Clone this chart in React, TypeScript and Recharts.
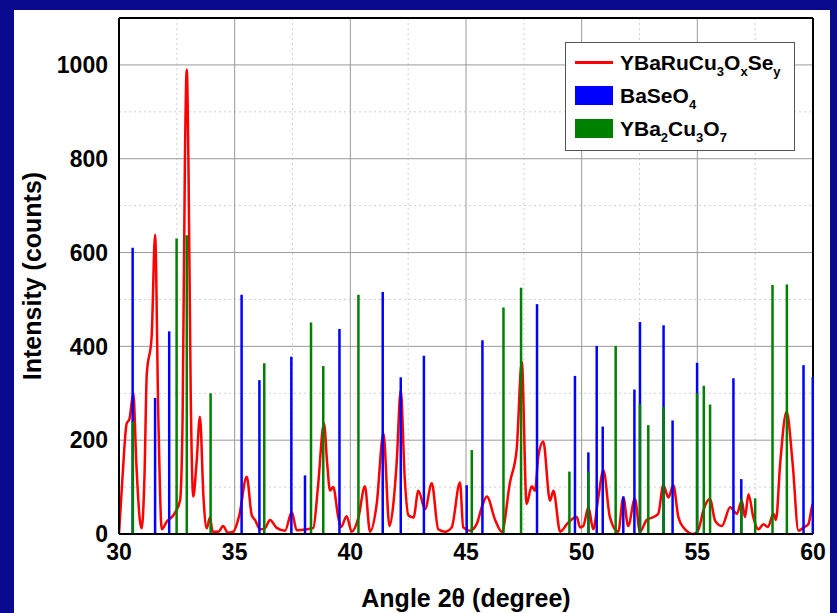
import { ComposedChart, Line, XAxis, YAxis, CartesianGrid, ReferenceLine, Legend, Label } from 'recharts';

// measured pattern (red trace)
const angles = [
  30.0, 30.15, 30.33, 30.45, 30.62, 30.75, 30.9, 30.98, 31.1, 31.2, 31.41, 31.56, 31.7, 31.85,
  32.06, 32.42, 32.64, 32.75, 32.85, 32.93, 33.0, 33.1, 33.21, 33.35, 33.5, 33.65, 33.79, 33.93,
  34.05, 34.3, 34.5, 34.7, 34.94, 35.2, 35.52, 35.74, 35.88, 36.1, 36.3, 36.53, 36.82, 37.18,
  37.47, 37.68, 38.11, 38.4, 38.6, 38.86, 39.0, 39.12, 39.26, 39.48, 39.6, 39.84, 40.06, 40.35,
  40.63, 40.85, 41.14, 41.43, 41.69, 41.86, 42.0, 42.18, 42.35, 42.51, 42.73, 42.94, 43.23, 43.52,
  43.8, 44.09, 44.38, 44.74, 44.88, 45.17, 45.46, 45.7, 45.9, 46.26, 46.55, 46.9, 47.19, 47.41,
  47.62, 47.84, 47.98, 48.13, 48.34, 48.63, 48.78, 49.07, 49.36, 49.5, 49.79, 49.93, 50.07, 50.29,
  50.5, 50.72, 50.94, 51.22, 51.58, 51.8, 52.01, 52.3, 52.52, 52.81, 53.1, 53.31, 53.53, 53.75,
  53.96, 54.18, 54.4, 54.83, 55.05, 55.26, 55.55, 55.77, 56.06, 56.42, 56.71, 56.92, 57.06, 57.21,
  57.42, 57.64, 57.86, 58.05, 58.29, 58.4, 58.58, 58.86, 59.12, 59.37, 59.59, 59.8, 59.95, 60.0,
];
const counts = [
  0, 120, 235, 245, 300, 150, 30, 12, 120, 340, 420, 638, 250, 10,
  26, 45, 72, 250, 800, 990, 800, 300, 80, 150, 250, 80, 12, 35,
  5, 5, 17, 3, 5, 40, 122, 40, 30, 10, 12, 30, 13, 7,
  47, 8, 10, 13, 100, 236, 150, 93, 100, 35, 15, 38, 5, 35,
  102, 5, 64, 215, 17, 64, 150, 307, 120, 40, 35, 92, 53, 108,
  10, 5, 14, 110, 14, 7, 21, 60, 80, 30, 5, 110, 180, 367,
  64, 102, 92, 167, 197, 71, 92, 5, 21, 28, 36, 14, 17, 57,
  10, 78, 136, 36, 5, 78, 17, 75, 5, 30, 36, 43, 104, 78,
  104, 36, 14, 0, 10, 50, 75, 28, 17, 57, 43, 71, 36, 85,
  36, 10, 21, 15, 43, 30, 150, 261, 150, 7, 14, 21, 57, 65,
];

// reference lines, BaSeO4
const baseo4Angles = [
  30.59, 31.56, 32.17, 35.3, 36.07, 37.45, 38.04, 39.53, 41.4, 42.18, 43.18, 45.03, 45.71, 48.07,
  49.71, 50.29, 50.65, 50.91, 51.8, 52.28, 52.52, 53.54, 53.93, 54.99, 56.56, 56.9, 59.59, 59.99,
];
const baseo4Heights = [
  610, 290, 432, 510, 328, 378, 125, 437, 516, 334, 380, 104, 413, 490,
  337, 174, 401, 229, 80, 308, 452, 445, 242, 365, 332, 117, 360, 335,
];

// reference lines, YBa2Cu3O7
const ybcoAngles = [
  30.6, 32.49, 32.93, 33.96, 36.28, 38.3, 38.83, 40.35, 45.25, 46.62, 47.38, 49.47, 50.29, 51.47,
  52.52, 52.88, 53.54, 54.99, 55.28, 55.55, 56.9, 57.5, 58.25, 58.87,
];
const ybcoHeights = [
  240, 630, 637, 300, 364, 451, 358, 510, 179, 483, 525, 133, 133, 401,
  277, 232, 271, 300, 316, 276, 75, 76, 531, 532,
];

const xTicks = [30, 35, 40, 45, 50, 55, 60];
const yTicks = [0, 200, 400, 600, 800, 1000];
const xMinor = [32.5, 37.5, 42.5, 47.5, 52.5, 57.5];
const yMinor = [100, 300, 500, 700, 900];

// legend labels as [text, subscript] pieces
const legendRed = [['YBaRuCu', '3'], ['O', 'x'], ['Se', 'y']];
const legendBlue = [['BaSeO', '4']];
const legendGreen = [['YBa', '2'], ['Cu', '3'], ['O', '7']];

const FONT = '"Liberation Sans", Arial, Helvetica, sans-serif';
const RED = '#ff0000';
const BLUE = '#0000ff';
const GREEN = '#008000';

const pattern = angles.map((a, i) => ({ angle: a, counts: counts[i] }));

function Formula({ parts }: { parts: string[][] }) {
  return (
    <span>
      {parts.map(([t, s], i) => (
        <span key={i}>
          {t}
          <span style={{ fontSize: 13, position: 'relative', top: 6 }}>{s}</span>
        </span>
      ))}
    </span>
  );
}

function renderLegend() {
  const row = { display: 'flex', alignItems: 'center', height: 33 } as const;
  const swatch = (color: string) => (
    <div style={{ width: 38, height: 19, background: color, marginRight: 7 }} />
  );
  return (
    <div
      style={{
        border: '1px solid #555',
        background: '#fff',
        width: 219,
        height: 104,
        boxSizing: 'content-box',
        padding: '3px 0 0 9px',
        fontFamily: FONT,
        fontWeight: 'bold',
        fontSize: 21,
        color: '#000',
        lineHeight: 1,
      }}
    >
      <div style={row}>
        <div style={{ width: 38, height: 3, background: RED, marginRight: 7 }} />
        <Formula parts={legendRed} />
      </div>
      <div style={row}>
        {swatch(BLUE)}
        <Formula parts={legendBlue} />
      </div>
      <div style={row}>
        {swatch(GREEN)}
        <Formula parts={legendGreen} />
      </div>
    </div>
  );
}

export default function App() {
  const tick = { fontSize: 23, fontWeight: 'bold', fontFamily: FONT, fill: '#000' };
  const title = { fontSize: 25, fontWeight: 'bold', fontFamily: FONT, fill: '#000' };
  return (
    <div style={{ position: 'fixed', left: 0, top: 0, width: 837, height: 613, background: '#0a0a8f' }}>
      <div style={{ position: 'absolute', left: 14, top: 10, width: 816, height: 603, background: '#fff' }} />
      <div style={{ position: 'absolute', left: 0, top: 0 }}>
        <ComposedChart width={837} height={613} data={pattern} margin={{ top: 18, right: 24, bottom: 9, left: 14 }}>
          <CartesianGrid verticalValues={xMinor} horizontalValues={yMinor} stroke="#cfcfcf" strokeDasharray="2 3" />
          <CartesianGrid verticalValues={xTicks} horizontalValues={yTicks} stroke="#9a9a9a" />
          <XAxis
            dataKey="angle"
            type="number"
            domain={[30, 60]}
            ticks={xTicks}
            allowDataOverflow
            height={70}
            tickLine={false}
            tickMargin={4}
            axisLine={{ stroke: '#000', strokeWidth: 2 }}
            tick={tick}
          >
            <Label value="Angle 2θ (degree)" position="insideBottom" offset={-3} style={title} />
          </XAxis>
          <YAxis
            type="number"
            domain={[0, 1100]}
            ticks={yTicks}
            width={105}
            tickLine={false}
            tickMargin={5}
            axisLine={{ stroke: '#000', strokeWidth: 2 }}
            tick={tick}
          >
            <Label value="Intensity (counts)" angle={-90} position="center" dx={-34} style={title} />
          </YAxis>
          <ReferenceLine x={60} stroke="#000" strokeWidth={2} />
          <ReferenceLine y={1100} stroke="#000" strokeWidth={2} />
          <Line
            type="monotone"
            dataKey="counts"
            stroke={RED}
            strokeWidth={2.5}
            dot={false}
            isAnimationActive={false}
          />
          {baseo4Angles.map((a, i) => (
            <ReferenceLine
              key={`b${i}`}
              segment={[{ x: a, y: 0 }, { x: a, y: baseo4Heights[i] }]}
              stroke={BLUE}
              strokeWidth={2.5}
            />
          ))}
          {ybcoAngles.map((a, i) => (
            <ReferenceLine
              key={`g${i}`}
              segment={[{ x: a, y: 0 }, { x: a, y: ybcoHeights[i] }]}
              stroke={GREEN}
              strokeWidth={2.5}
            />
          ))}
          <Legend
            layout="vertical"
            align="center"
            verticalAlign="middle"
            content={renderLegend}
            wrapperStyle={{ position: 'absolute', left: 565, top: 42, width: 229, height: 108 }}
          />
        </ComposedChart>
      </div>
    </div>
  );
}
